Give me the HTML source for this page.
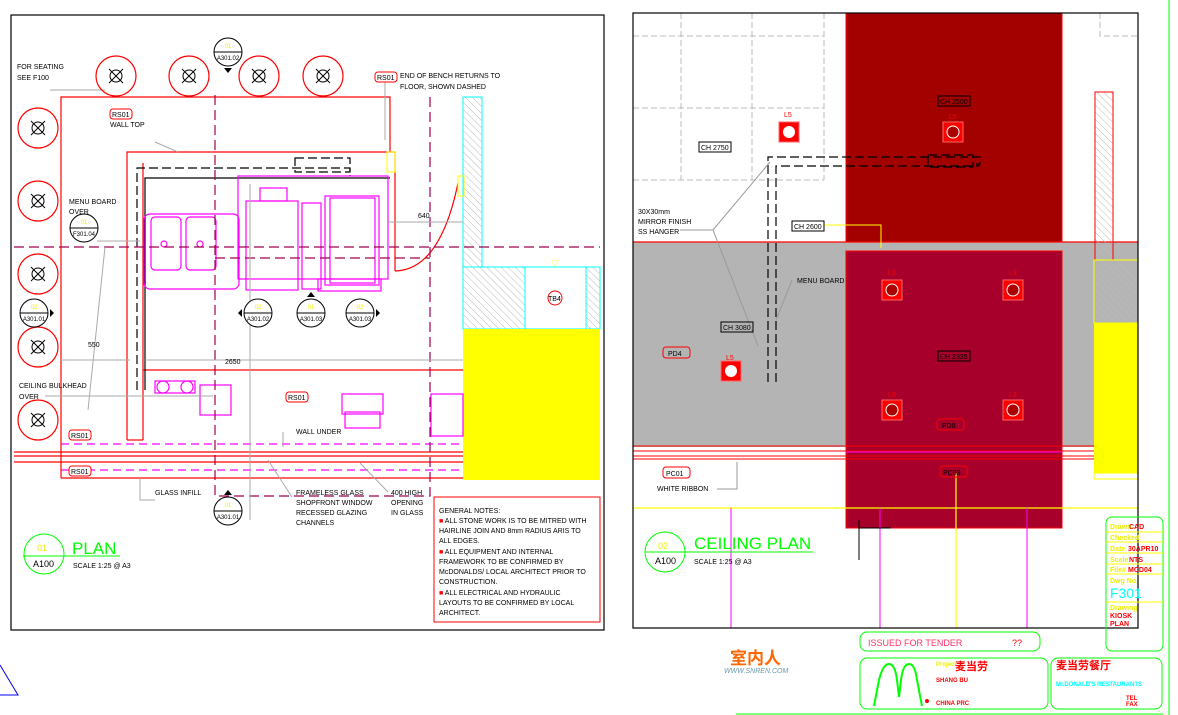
<!DOCTYPE html>
<html><head><meta charset="utf-8"><style>
html,body{margin:0;padding:0;background:#fff;width:1178px;height:715px;overflow:hidden}
svg{display:block}
text{font-family:"Liberation Sans","Noto Sans CJK SC",sans-serif}
</style></head><body>
<svg width="1178" height="715" viewBox="0 0 1178 715" xmlns="http://www.w3.org/2000/svg">
<defs>
<pattern id="h" width="5" height="5" patternUnits="userSpaceOnUse" patternTransform="rotate(-45)">
<line x1="0" y1="0" x2="0" y2="5" stroke="#bbb" stroke-width="1"/></pattern>
<g id="seat"><circle r="20" fill="none" stroke="#f00" stroke-width="1.2"/><circle r="6" fill="none" stroke="#000"/><path d="M-7,-7L7,7M-7,7L7,-7" stroke="#000"/></g>
<g id="lamp"><rect x="-10" y="-10" width="20" height="20" fill="#f00" stroke="#f66"/><circle r="6" fill="#a00" stroke="#fff" stroke-width="1"/></g>
<g id="lampw"><rect x="-10" y="-10" width="20" height="20" fill="#f00" stroke="#f66"/><circle r="6" fill="#fff"/></g>
</defs>

<!-- LEFT PLAN FRAME -->
<rect x="11" y="15" width="593" height="615" fill="none" stroke="#000" stroke-width="1.2"/>

<rect x="463" y="97" width="19" height="170" fill="url(#h)" stroke="#0ff"/>
<rect x="463" y="267" width="137" height="62" fill="#fff" stroke="#0ff"/>
<rect x="463" y="267" width="62" height="62" fill="url(#h)" stroke="#0ff"/>
<rect x="586" y="267" width="14" height="62" fill="url(#h)" stroke="#0ff"/>
<rect x="463" y="329" width="137" height="151" fill="#ff0"/>
<circle cx="555" cy="298" r="7" fill="none" stroke="#f00"/><text x="548" y="301" font-size="7">TB4</text>
<text x="551" y="266" font-size="8" fill="#ff0">▽</text>

<g fill="none" stroke="#f00" stroke-width="1.2">
<path d="M61,478V97H390V152"/>
<path d="M127,440V152H395V271"/>
<path d="M143,440V163"/>
<path d="M127,440H143"/>
<path d="M143,370H463"/>
<path d="M61,478H463"/>
<path d="M395,271Q440,270 458,183"/>
<path d="M14,452H463M14,456H463M14,462H463"/>
</g>
<rect x="387" y="152" width="8" height="20" fill="none" stroke="#ff0"/>
<rect x="458" y="176" width="6" height="20" fill="none" stroke="#ff0"/>
<g fill="none" stroke="#000" stroke-width="1.2">
<path d="M137,390V168H350V176" stroke-dasharray="9,4"/>
<path d="M145,390V178H390"/>
<rect x="295" y="158" width="55" height="14" stroke-dasharray="9,4"/>
</g>
<g fill="none" stroke="#f0f" stroke-width="1.2">
<rect x="144" y="214" width="95" height="75" rx="6"/>
<rect x="151" y="217" width="30" height="53" rx="4"/>
<rect x="186" y="217" width="30" height="53" rx="4"/>
<circle cx="164" cy="244" r="3"/><circle cx="200" cy="244" r="3"/>
<rect x="238" y="176" width="150" height="103"/>
<rect x="246" y="201" width="52" height="89"/>
<rect x="260" y="188" width="27" height="13"/>
<rect x="302" y="203" width="19" height="86"/>
<rect x="325" y="196" width="54" height="89"/>
<rect x="330" y="198" width="45" height="85"/>
<rect x="318" y="279" width="63" height="12"/>
<rect x="155" y="381" width="40" height="12"/>
<circle cx="163" cy="387" r="6"/><circle cx="187" cy="387" r="6"/>
<rect x="200" y="385" width="31" height="30"/>
<rect x="342" y="394" width="41" height="20"/>
<rect x="345" y="412" width="35" height="16"/>
<rect x="431" y="394" width="32" height="42"/>
<path d="M61,470H463M61,444H463" stroke-dasharray="8,5"/>
</g>
<g fill="none" stroke="#a0004f" stroke-width="1.2" stroke-dasharray="10,5">
<path d="M14,247H600"/><path d="M215,258H430"/>
<path d="M215,95V496H430V95"/>
</g>
<g stroke="#aaa" fill="none">
<path d="M60,360H130M145,360H463M250,184V520"/>
<path d="M387,222H463"/>
<path d="M50,90H105"/><path d="M97,241H140"/>
<path d="M155,142L178,152"/><path d="M45,396H213"/>
<path d="M88,410L105,247"/>
<path d="M140,478V500H155"/><path d="M268,460L292,497"/><path d="M360,463L388,492"/><path d="M283,432V447"/>
<path d="M385,82V140"/>
</g>
<text x="225" y="364" font-size="7">2650</text><text x="88" y="347" font-size="7">550</text>
<text x="418" y="218" font-size="7">640</text>

<use href="#seat" x="116" y="76"/><use href="#seat" x="189" y="76"/><use href="#seat" x="259" y="76"/><use href="#seat" x="323" y="76"/>
<use href="#seat" x="38" y="128"/><use href="#seat" x="38" y="201"/><use href="#seat" x="38" y="274"/><use href="#seat" x="38" y="347"/><use href="#seat" x="38" y="420"/>

<g font-size="6" text-anchor="middle">
<g transform="translate(228,52)"><circle r="14" fill="#fff" stroke="#000"/><line x1="-14" x2="14" stroke="#000"/><text y="-4" fill="#ee0">01</text><text y="8">A301.02</text><path d="M-4,16H4L0,21Z"/></g>
<g transform="translate(84,228)"><circle r="14" fill="#fff" stroke="#000"/><line x1="-14" x2="14" stroke="#000"/><text y="-4" fill="#ee0">01</text><text y="8">F301.04</text></g>
<g transform="translate(34,313)"><circle r="14" fill="#fff" stroke="#000"/><line x1="-14" x2="14" stroke="#000"/><text y="-4" fill="#ee0">02</text><text y="8">A301.01</text><path d="M16,-4V4L20,0Z"/></g>
<g transform="translate(258,313)"><circle r="14" fill="#fff" stroke="#000"/><line x1="-14" x2="14" stroke="#000"/><text y="-4" fill="#ee0">02</text><text y="8">A301.02</text><path d="M-16,-4V4L-20,0Z"/></g>
<g transform="translate(311,313)"><circle r="14" fill="#fff" stroke="#000"/><line x1="-14" x2="14" stroke="#000"/><text y="-4" fill="#ee0">01</text><text y="8">A301.03</text><path d="M-4,-16H4L0,-21Z"/></g>
<g transform="translate(360,313)"><circle r="14" fill="#fff" stroke="#000"/><line x1="-14" x2="14" stroke="#000"/><text y="-4" fill="#ee0">02</text><text y="8">A301.03</text><path d="M16,-4V4L20,0Z"/></g>
<g transform="translate(228,511)"><circle r="14" fill="#fff" stroke="#000"/><line x1="-14" x2="14" stroke="#000"/><text y="-4" fill="#ee0">01</text><text y="8">A301.01</text><path d="M-4,-16H4L0,-21Z"/></g>
</g>

<g font-size="7">
<rect x="375" y="72" width="22" height="10" rx="3" fill="#fff" stroke="#f00"/><text x="377" y="80">RS01</text>
<rect x="110" y="109" width="22" height="10" rx="3" fill="#fff" stroke="#f00"/><text x="112" y="117">RS01</text>
<rect x="69" y="430" width="22" height="10" rx="3" fill="#fff" stroke="#f00"/><text x="71" y="438">RS01</text>
<rect x="69" y="466" width="22" height="10" rx="3" fill="#fff" stroke="#f00"/><text x="71" y="474">RS01</text>
<rect x="286" y="392" width="22" height="10" rx="3" fill="#fff" stroke="#f00"/><text x="288" y="400">RS01</text>
<text x="17" y="69">FOR SEATING</text><text x="17" y="80">SEE F100</text>
<text x="400" y="78">END OF BENCH RETURNS TO</text><text x="400" y="89">FLOOR, SHOWN DASHED</text>
<text x="110" y="127">WALL TOP</text>
<text x="69" y="204">MENU BOARD</text><text x="69" y="214">OVER</text>
<text x="19" y="388">CEILING BULKHEAD</text><text x="19" y="399">OVER</text>
<text x="296" y="434">WALL UNDER</text>
<text x="155" y="495">GLASS INFILL</text>
<text x="296" y="495">FRAMELESS GLASS</text><text x="296" y="505">SHOPFRONT WINDOW</text><text x="296" y="515">RECESSED GLAZING</text><text x="296" y="525">CHANNELS</text>
<text x="391" y="495">400 HIGH</text><text x="391" y="505">OPENING</text><text x="391" y="515">IN GLASS</text>
</g>
<rect x="434" y="497" width="166" height="125" fill="none" stroke="#f00"/>
<g font-size="7">
<text x="439" y="513">GENERAL NOTES:</text>
<text x="439" y="523"><tspan fill="#f00">■</tspan> ALL STONE WORK IS TO BE MITRED WITH</text>
<text x="439" y="533">HAIRLINE JOIN AND 8mm RADIUS ARIS TO</text>
<text x="439" y="543">ALL EDGES.</text>
<text x="439" y="554"><tspan fill="#f00">■</tspan> ALL EQUIPMENT AND INTERNAL</text>
<text x="439" y="564">FRAMEWORK TO BE CONFIRMED BY</text>
<text x="439" y="574">McDONALDS/ LOCAL ARCHITECT PRIOR TO</text>
<text x="439" y="584">CONSTRUCTION.</text>
<text x="439" y="595"><tspan fill="#f00">■</tspan> ALL ELECTRICAL AND HYDRAULIC</text>
<text x="439" y="605">LAYOUTS TO BE CONFIRMED BY LOCAL</text>
<text x="439" y="615">ARCHITECT.</text>
</g>
<circle cx="44" cy="554" r="20" fill="none" stroke="#0f0"/><line x1="23" y1="556" x2="120" y2="556" stroke="#0f0"/>
<text x="37" y="551" font-size="9" fill="#ee0">01</text><text x="33" y="567" font-size="9">A100</text>
<text x="72" y="554" font-size="17" fill="#0f0">PLAN</text>
<text x="73" y="568" font-size="7">SCALE 1:25 @ A3</text>
<path d="M0,665L18,695H0" fill="none" stroke="#00f"/>

<!-- RIGHT CEILING FRAME -->
<rect x="633" y="242" width="505" height="205" fill="#b4b4b4"/>
<g stroke="#bbb" stroke-dasharray="6,3" fill="none">
<path d="M633,36H824M633,108H824M633,180H824M681,13V180M752,13V180M824,13V180"/>
<path d="M1100,13V36H1138"/>
</g>
<rect x="846" y="13" width="216" height="229" fill="#a30000" stroke="#f00"/>
<rect x="846" y="251" width="216" height="277" fill="#a6002b" stroke="#f00"/>
<path d="M633,242H1138" stroke="#f00" stroke-width="1.2"/>
<path d="M633,446H1112M633,451H1112M633,456H1112M633,459H1112" stroke="#f00"/>
<path d="M846,452H1062" stroke="#f0f"/>
<rect x="1095" y="92" width="18" height="168" fill="url(#h)" stroke="#f00"/>
<rect x="1094" y="260" width="44" height="63" fill="url(#h)" stroke="#ff0"/>
<rect x="1094" y="323" width="44" height="150" fill="#ff0"/>
<rect x="1094" y="473" width="44" height="6" fill="#fff" stroke="#ff0"/>
<path d="M633,508H1138M956,473V628" stroke="#ff0" stroke-width="1.2"/>
<path d="M731,508V628M880,508V628M1027,508V628" stroke="#f0f"/>
<path d="M859,528H891M859,520V560" stroke="#000"/>
<g fill="none" stroke="#000" stroke-width="1.2">
<path d="M776,382V166H980" stroke-dasharray="9,4"/>
<path d="M768,382V157H980V164H976" stroke-dasharray="9,4"/>
<rect x="928" y="155" width="45" height="12" stroke-dasharray="9,4"/>
</g>
<g stroke="#999" fill="none"><path d="M770,162L713,230L758,346M680,230H713"/><path d="M792,280L776,320"/><path d="M717,489H737V462"/></g>
<path d="M822,225H881V248" stroke="#ff0" fill="none"/>
<use href="#lampw" x="789" y="132"/><use href="#lamp" x="953" y="132"/>
<use href="#lamp" x="892" y="290"/><use href="#lamp" x="1013" y="290"/>
<use href="#lamp" x="892" y="410"/><use href="#lamp" x="1013" y="410"/>
<use href="#lampw" x="731" y="371"/>
<g font-size="7" fill="#f00"><text x="784" y="117">L5</text><text x="949" y="119">L5</text><text x="888" y="275">L3</text><text x="1009" y="275">L3</text><text x="888" y="397">L3</text><text x="1009" y="397">L3</text><text x="726" y="360">L5</text></g>
<g font-size="7">
<rect x="938" y="96" width="32" height="10" fill="none" stroke="#000"/><text x="940" y="104">CH 2500</text>
<rect x="699" y="142" width="32" height="10" fill="#fff" stroke="#000"/><text x="701" y="150">CH 2750</text>
<rect x="792" y="221" width="32" height="10" fill="#fff" stroke="#000"/><text x="794" y="229">CH 2600</text>
<rect x="721" y="322" width="32" height="10" fill="none" stroke="#000"/><text x="723" y="330">CH 3080</text>
<rect x="938" y="351" width="32" height="10" fill="none" stroke="#000"/><text x="940" y="359">CH 2335</text>
<rect x="663" y="347" width="27" height="11" rx="3" fill="none" stroke="#f00"/><text x="668" y="356">PD4</text>
<rect x="937" y="419" width="27" height="11" rx="3" fill="none" stroke="#f00"/><text x="942" y="428">PD8</text>
<rect x="663" y="467" width="27" height="11" rx="3" fill="#fff" stroke="#f00"/><text x="666" y="476">PC01</text>
<rect x="940" y="466" width="27" height="11" rx="3" fill="none" stroke="#f00"/><text x="943" y="475">PC03</text>
<text x="638" y="214">30X30mm</text><text x="638" y="224">MIRROR FINISH</text><text x="638" y="234">SS HANGER</text>
<text x="797" y="283">MENU BOARD</text>
<text x="657" y="491">WHITE RIBBON</text>
</g>
<rect x="633" y="13" width="505" height="615" fill="none" stroke="#000" stroke-width="1.2"/>
<circle cx="665" cy="552" r="20" fill="none" stroke="#0f0"/><line x1="645" y1="552" x2="813" y2="552" stroke="#0f0"/>
<text x="658" y="549" font-size="9" fill="#ee0">02</text><text x="655" y="564" font-size="9">A100</text>
<text x="694" y="549" font-size="17" fill="#0f0">CEILING PLAN</text>
<text x="694" y="564" font-size="7">SCALE 1:25 @ A3</text>

<!-- title block -->
<path d="M1169,0V715" stroke="#0f0"/>
<path d="M736,714H1163" stroke="#0f0"/>
<rect x="1106" y="517" width="57" height="134" rx="6" fill="none" stroke="#0f0"/>
<g stroke="#ff0"><path d="M1106,532H1163M1106,542H1163M1106,553H1163M1106,564H1163M1106,574H1163M1106,602H1163"/></g>
<g font-size="7" font-weight="bold">
<text x="1110" y="529" fill="#ee0">Drawn</text><text x="1129" y="529" fill="#f00">CAD</text>
<text x="1110" y="540" fill="#ee0">Checked</text>
<text x="1110" y="551" fill="#ee0">Date</text><text x="1128" y="551" fill="#f00">30APR10</text>
<text x="1110" y="562" fill="#ee0">Scale</text><text x="1129" y="562" fill="#f00">NTS</text>
<text x="1110" y="572" fill="#ee0">File#</text><text x="1128" y="572" fill="#f00">MCD04</text>
<text x="1110" y="583" fill="#ee0">Dwg No.</text>
<text x="1110" y="598" font-size="14" fill="#0ff" font-weight="normal">F301</text>
<text x="1110" y="610" fill="#ee0">Drawing</text><text x="1110" y="618" fill="#f00">KIOSK</text><text x="1110" y="626" fill="#f00">PLAN</text>
</g>
<rect x="860" y="632" width="180" height="19" rx="7" fill="none" stroke="#0f0"/>
<text x="868" y="646" font-size="9" fill="#f36">ISSUED FOR TENDER</text><text x="1012" y="646" font-size="9" fill="#f00">??</text>
<rect x="860" y="658" width="188" height="51" rx="7" fill="none" stroke="#0f0"/>
<rect x="1051" y="658" width="111" height="51" rx="7" fill="none" stroke="#0f0"/>
<path d="M874,706L879,680Q883,664 889,664Q895,664 897,680L899,697L901,680Q903,664 909,664Q915,664 917,680L922,706" fill="none" stroke="#0f0" stroke-width="2"/>
<circle cx="927" cy="701" r="2" fill="#f00"/>
<g font-size="6" font-weight="bold">
<text x="936" y="666" fill="#ee0">Project</text>
<text x="955" y="670" font-size="11" fill="#f00">麦当劳</text>
<text x="936" y="682" fill="#f00">SHANG BU</text>
<text x="936" y="705" fill="#f00">CHINA PRC</text>
<text x="1056" y="669" font-size="11" fill="#f00">麦当劳餐厅</text>
<text x="1056" y="686" fill="#0ff">McDONALD'S RESTAURANTS</text>
<text x="1126" y="700" fill="#f00">TEL</text><text x="1126" y="706" fill="#f00">FAX</text>
</g>
<text x="730" y="664" font-size="17" font-weight="bold" fill="#f60">室内人</text>
<text x="724" y="673" font-size="7" font-style="italic" fill="#69a">WWW.SNREN.COM</text>
</svg>
</body></html>
